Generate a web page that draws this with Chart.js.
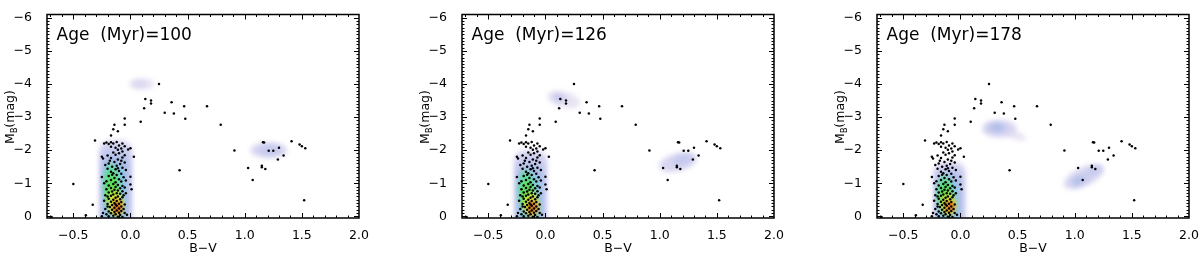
<!DOCTYPE html>
<html>
<head>
<meta charset="utf-8">
<script src="https://cdn.jsdelivr.net/npm/chart.js@4.4.0/dist/chart.umd.min.js"></script>
<style>
  body { margin: 0; background: #fff; width: 1200px; height: 256px; overflow: hidden; position: relative; }
  .panel { position: absolute; top: 0; width: 400px; height: 256px; }
</style>
</head>
<body>
<div class="panel" style="left:0px"><canvas id="cmd100" width="400" height="256"></canvas></div>
<div class="panel" style="left:415px"><canvas id="cmd126" width="400" height="256"></canvas></div>
<div class="panel" style="left:830px"><canvas id="cmd178" width="400" height="256"></canvas></div>
<script>
// model ages shown in the three panels
const ages = [100, 126, 178];

// axis ranges and ticks
const xRange = [-0.73, 2.0];
const yRange = [-6.1, 0.05];
const xTicks = [-0.5, 0.0, 0.5, 1.0, 1.5, 2.0];
const yTicks = [-6, -5, -4, -3, -2, -1, 0];

// observed stars [B-V, M_B] (same in every panel)
const stars = [
  // upper main sequence
  [-0.05,-2.96],[-0.14,-2.77],[-0.05,-2.77],[-0.15,-2.63],[-0.11,-2.57],[-0.17,-2.44],[-0.31,-2.29],
  [-0.23,-2.2],[-0.21,-2.23],[-0.19,-2.19],[-0.17,-2.24],[-0.15,-2.2],[-0.12,-2.25],[-0.1,-2.14],
  [-0.07,-2.2],[-0.05,-2.12],[-0.17,-2.1],[-0.13,-2.07],[-0.08,-2.05],[-0.02,-2.02],[0.0,-2.06],[-0.11,-2.01],
  [0.03,-1.8],[-0.25,-1.8],[-0.24,-1.75],[-0.2,-1.84],[-0.1,-1.91],[-0.07,-1.96],[-0.15,-1.93],[-0.13,-1.86],
  [-0.05,-1.85],[-0.17,-1.76],[-0.11,-1.72],[-0.08,-1.68],[-0.14,-1.64],[-0.19,-1.6],[-0.22,-1.55],
  [-0.09,-1.58],[-0.05,-1.63],[-0.12,-1.53],[-0.16,-1.5],[-0.07,-1.78],[-0.18,-1.68],
  [-0.07,-1.47],[-0.2,-1.44],[-0.13,-1.42],[-0.1,-1.37],[-0.04,-1.4],[-0.25,-1.19],[0.0,-1.2],
  [-0.17,-1.35],[-0.15,-1.3],[-0.08,-1.29],[-0.12,-1.25],[-0.19,-1.22],[-0.06,-1.18],[-0.14,-1.16],
  [-0.1,-1.12],[-0.17,-1.1],[-0.21,-1.06],[-0.08,-1.05],[-0.13,-1.03],[-0.23,-1.0],[-0.04,-1.08],
  [-0.16,-1.26],[-0.11,-1.45],
  // lower main sequence
  [0.0,-0.96],[0.01,-0.82],[-0.15,-0.98],[-0.11,-0.95],[-0.19,-0.93],[-0.07,-0.92],[-0.13,-0.89],
  [-0.17,-0.86],[-0.09,-0.85],[-0.05,-0.87],[-0.21,-0.82],[-0.14,-0.8],[-0.11,-0.78],[-0.16,-0.75],
  [-0.07,-0.76],[-0.19,-0.72],[-0.12,-0.7],[-0.09,-0.68],[-0.15,-0.66],[-0.04,-0.7],[-0.22,-0.64],
  [-0.17,-0.62],[-0.11,-0.6],[-0.07,-0.58],[-0.13,-0.56],[-0.19,-0.53],[-0.09,-0.52],[-0.15,-0.5],
  [-0.06,-0.64],[-0.2,-0.6],
  [-0.23,-0.47],[-0.12,-0.46],[-0.17,-0.44],[-0.08,-0.43],[-0.14,-0.4],[-0.1,-0.38],[-0.2,-0.37],
  [-0.05,-0.36],[-0.16,-0.34],[-0.12,-0.32],[-0.08,-0.3],[-0.18,-0.28],[-0.14,-0.26],[-0.1,-0.24],
  [-0.22,-0.22],[-0.06,-0.22],[-0.16,-0.2],[-0.12,-0.18],[-0.19,-0.15],[-0.08,-0.16],[-0.14,-0.13],
  [-0.1,-0.11],[-0.17,-0.09],[-0.05,-0.1],[-0.21,-0.06],[-0.13,-0.06],[-0.09,-0.04],[-0.15,-0.02],
  [-0.19,0.0],[-0.11,0.01],[-0.07,0.02],[-0.24,-0.1],[-0.25,0.0],[-0.03,-0.05],[-0.2,-0.3],[-0.13,-0.36],
  // blue outliers
  [-0.5,-0.98],[-0.33,-0.35],[-0.39,-0.03],[-0.69,0.02],
  // giants
  [0.25,-4.0],[0.13,-3.55],[0.18,-3.5],[0.18,-3.41],[0.12,-3.27],[0.36,-3.45],[0.3,-3.13],[0.38,-3.11],
  [0.47,-3.33],[0.67,-3.33],[0.48,-2.95],[0.09,-2.86],[0.79,-2.77],[0.43,-1.39],
  // red clump region
  [0.91,-1.99],[1.03,-1.46],[1.07,-1.1],[1.15,-1.53],[1.15,-1.48],[1.18,-1.43],[1.16,-2.24],[1.17,-2.23],
  [1.21,-1.98],[1.25,-1.98],[1.3,-2.07],[1.29,-1.72],[1.34,-1.84],[1.41,-2.27],[1.48,-2.17],[1.5,-2.12],
  [1.53,-2.06],[1.52,-0.49]
];

// density colour levels, faint lavender up to red
const blobColours = ['#e8e2f3', '#d8d6f1', '#c4c9ee', '#a9bce9', '#86cbe6', '#62dca0',
                     '#58df52', '#bdeb3c', '#f4df36', '#ec962a', '#c4441a'];

// model density layers
// ['r', x0, x1, y0, y1, level]  or  ['e', cx, cy, rx, ry, level, rotDeg]
const blobs100 = [
  ['r', -0.275, 0.018, -2.3, 0.5, 1], ['r', -0.258, -0.002, -2.1, 0.5, 2],
  ['r', -0.242, -0.025, -1.85, 0.5, 3], ['r', -0.228, -0.05, -1.55, 0.5, 4],
  ['e', -0.17, -1.0, 0.06, 0.6, 5], ['e', -0.16, -0.8, 0.055, 0.5, 6],
  ['e', -0.14, -0.45, 0.06, 0.38, 7], ['e', -0.12, -0.32, 0.05, 0.3, 8],
  ['e', -0.115, -0.28, 0.038, 0.22, 9], ['e', -0.11, -0.26, 0.022, 0.13, 10],
  ['e', 0.1, -4.0, 0.11, 0.17, 0, 0], ['e', 0.08, -4.0, 0.06, 0.1, 1, 0],
  ['e', 1.21, -2.0, 0.16, 0.24, 1, 0], ['e', 1.22, -2.0, 0.1, 0.14, 2, 0]
];
const blobs126 = [
  ['r', -0.275, 0.015, -2.0, 0.5, 1], ['r', -0.258, -0.004, -1.8, 0.5, 2],
  ['r', -0.242, -0.028, -1.55, 0.5, 3], ['r', -0.228, -0.05, -1.3, 0.5, 4],
  ['e', -0.17, -0.85, 0.06, 0.55, 5], ['e', -0.16, -0.65, 0.055, 0.45, 6],
  ['e', -0.13, -0.4, 0.06, 0.35, 7], ['e', -0.12, -0.3, 0.05, 0.28, 8],
  ['e', -0.115, -0.28, 0.038, 0.2, 9], ['e', -0.11, -0.26, 0.022, 0.13, 10],
  ['e', 0.16, -3.53, 0.145, 0.24, 0, 15], ['e', 0.12, -3.58, 0.06, 0.12, 2, 15],
  ['e', 1.16, -1.64, 0.17, 0.27, 1, -15], ['e', 1.2, -1.7, 0.09, 0.14, 2, -15]
];
const blobs178 = [
  ['r', -0.238, 0.045, -1.65, 0.5, 1], ['r', -0.22, 0.025, -1.5, 0.5, 2],
  ['r', -0.205, 0.0, -1.3, 0.5, 3], ['r', -0.19, -0.025, -1.1, 0.5, 4],
  ['e', -0.14, -0.75, 0.06, 0.5, 5], ['e', -0.13, -0.6, 0.055, 0.42, 6],
  ['e', -0.11, -0.4, 0.06, 0.32, 7], ['e', -0.1, -0.3, 0.048, 0.25, 8],
  ['e', -0.095, -0.3, 0.035, 0.18, 9], ['e', -0.09, -0.3, 0.022, 0.11, 10],
  ['e', 0.48, -2.45, 0.1, 0.12, 0, 20], ['e', 0.34, -2.65, 0.15, 0.27, 1, 0],
  ['e', 0.32, -2.67, 0.09, 0.15, 2, 0], ['e', 0.32, -2.68, 0.05, 0.08, 3, 0],
  ['e', 1.08, -1.2, 0.19, 0.28, 1, -25], ['e', 1.05, -1.1, 0.09, 0.14, 2, -25],
  ['e', 1.17, -1.38, 0.07, 0.11, 2, -25], ['e', 1.03, -1.08, 0.04, 0.07, 3, -25]
];

const tickFont = { family: '"DejaVu Sans"', size: 12.5 };

function minus(s) {
  return s.replace('-', '\u2212');
}

function drawBlob(ctx, xs, ys, b) {
  ctx.fillStyle = blobColours[b[5]];
  ctx.beginPath();
  if (b[0] === 'r') {
    const x0 = xs.getPixelForValue(b[1]), x1 = xs.getPixelForValue(b[2]);
    const y0 = ys.getPixelForValue(b[3]), y1 = ys.getPixelForValue(b[4]);
    const w = Math.abs(x1 - x0), h = Math.abs(y1 - y0);
    ctx.roundRect(Math.min(x0, x1), Math.min(y0, y1), w, h, Math.min(w / 2, 11));
  } else {
    const cx = xs.getPixelForValue(b[1]), cy = ys.getPixelForValue(b[2]);
    const rx = Math.abs(xs.getPixelForValue(b[1] + b[3]) - cx);
    const ry = Math.abs(ys.getPixelForValue(b[2] + b[4]) - cy);
    ctx.ellipse(cx, cy, rx, ry, (b[6] || 0) * Math.PI / 180, 0, 2 * Math.PI);
  }
  ctx.fill();
}

const cmdPlugin = {
  id: 'cmdFrame',
  beforeDatasetsDraw(chart, args, opts) {
    const { ctx, chartArea: a, scales: { x, y } } = chart;
    ctx.save();
    ctx.beginPath();
    ctx.rect(a.left, a.top, a.right - a.left, a.bottom - a.top);
    ctx.clip();
    ctx.filter = 'blur(2.5px)';
    opts.blobs.forEach(b => drawBlob(ctx, x, y, b));
    ctx.restore();
  },
  afterDatasetsDraw(chart, args, opts) {
    const { ctx, chartArea: a, scales: { x, y } } = chart;
    ctx.save();
    ctx.strokeStyle = '#000';
    ctx.fillStyle = '#000';

    // inward ticks on all four sides
    ctx.lineWidth = 1;
    ctx.beginPath();
    for (let v = -0.7; v < xRange[1] - 0.05; v += 0.1) {
      const px = Math.round(x.getPixelForValue(v)) + 0.5;
      const major = xTicks.some(t => Math.abs(t - v) < 1e-6);
      const len = major ? 5 : 2.5;
      ctx.moveTo(px, a.bottom); ctx.lineTo(px, a.bottom - len);
      ctx.moveTo(px, a.top); ctx.lineTo(px, a.top + len);
    }
    for (let v = -6.0; v < 0.05; v += 0.1) {
      const py = Math.round(y.getPixelForValue(v)) + 0.5;
      const major = yTicks.some(t => Math.abs(t - v) < 1e-6);
      const len = major ? 5 : 2.5;
      ctx.moveTo(a.left, py); ctx.lineTo(a.left + len, py);
      ctx.moveTo(a.right, py); ctx.lineTo(a.right - len, py);
    }
    ctx.stroke();

    // frame
    ctx.lineWidth = 1.5;
    ctx.strokeRect(a.left, a.top, a.right - a.left, a.bottom - a.top);

    // age label
    ctx.font = '17px "DejaVu Sans"';
    ctx.textBaseline = 'alphabetic';
    ctx.textAlign = 'left';
    ctx.fillText('Age  (Myr)=' + opts.age, a.left + 9.5, 39.5);

    // x title
    ctx.font = '12.5px "DejaVu Sans"';
    ctx.textAlign = 'center';
    ctx.textBaseline = 'middle';
    ctx.fillText('B\u2212V', (a.left + a.right) / 2, 249);

    // y title with subscript
    ctx.translate(11, 117);
    ctx.rotate(-Math.PI / 2);
    ctx.textAlign = 'left';
    ctx.textBaseline = 'middle';
    const big = '12.5px "DejaVu Sans"', small = '8px "DejaVu Sans"';
    ctx.font = big; const wM = ctx.measureText('M').width;
    ctx.font = small; const wB = ctx.measureText('B').width;
    ctx.font = big; const wRest = ctx.measureText('(mag)').width;
    let cx = -(wM + wB + wRest) / 2;
    ctx.fillText('M', cx, 0); cx += wM;
    ctx.font = small; ctx.fillText('B', cx, 3.5); cx += wB;
    ctx.font = big; ctx.fillText('(mag)', cx, 0);
    ctx.restore();
  }
};

function makePanel(id, age, blobs) {
  const ctx = document.getElementById(id).getContext('2d');
  return new Chart(ctx, {
    type: 'scatter',
    data: {
      datasets: [{
        data: stars.map(s => ({ x: s[0], y: s[1] })),
        backgroundColor: '#000',
        borderWidth: 0,
        pointRadius: 1.25,
        pointHoverRadius: 1.25
      }]
    },
    options: {
      responsive: false,
      animation: false,
      events: [],
      layout: { padding: { top: 4, right: 41, left: 0, bottom: 0 } },
      scales: {
        x: {
          type: 'linear',
          min: xRange[0],
          max: xRange[1],
          grid: { display: false },
          border: { display: false },
          afterBuildTicks: s => { s.ticks = xTicks.map(v => ({ value: v })); },
          afterFit: s => { s.height = 38; },
          ticks: {
            autoSkip: false,
            maxRotation: 0,
            padding: 2,
            color: '#000',
            font: tickFont,
            callback: v => minus(Number(v).toFixed(1))
          }
        },
        y: {
          type: 'linear',
          min: yRange[0],
          max: yRange[1],
          reverse: true,
          grid: { display: false },
          border: { display: false },
          afterBuildTicks: s => { s.ticks = yTicks.map(v => ({ value: v })); },
          afterFit: s => { s.width = 47; },
          ticks: {
            autoSkip: false,
            padding: 7,
            color: '#000',
            font: tickFont,
            callback: v => minus(String(Math.round(v)))
          }
        }
      },
      plugins: {
        legend: { display: false },
        tooltip: { enabled: false },
        cmdFrame: { age: age, blobs: blobs }
      }
    },
    plugins: [cmdPlugin]
  });
}

makePanel('cmd100', ages[0], blobs100);
makePanel('cmd126', ages[1], blobs126);
makePanel('cmd178', ages[2], blobs178);
</script>
</body>
</html>
